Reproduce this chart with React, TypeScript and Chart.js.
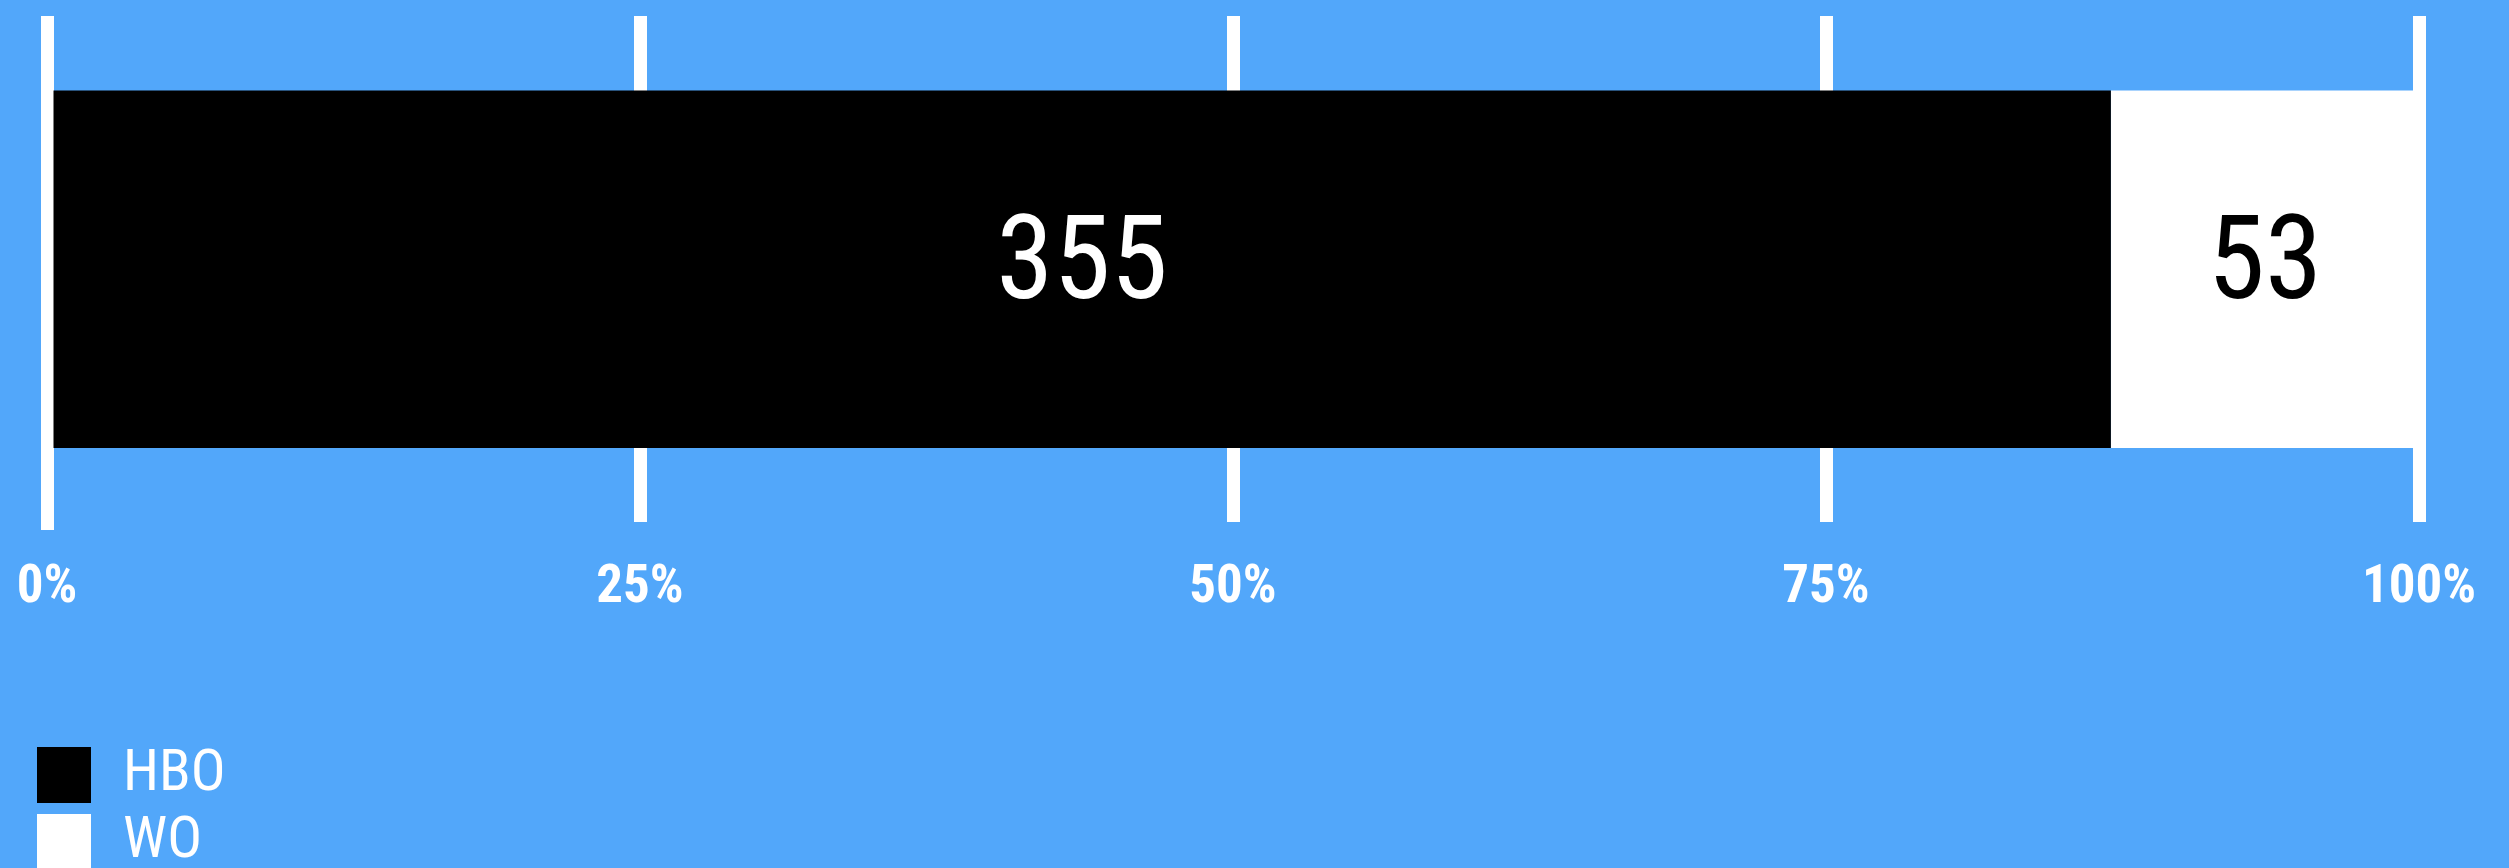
import React, { useEffect, useRef } from "react";
import { Chart, registerables } from "chart.js";

Chart.register(...registerables);

const categories = ["Total"];
const seriesNames = ["HBO", "WO"];
const hboCounts = [355];
const woCounts = [53];
const seriesColors = ["#000000", "#ffffff"];
const labelColors = ["#ffffff", "#000000"];
const tickValues = [0, 25, 50, 75, 100];

const BG = "#52a7fa";
const FONT = '"Roboto Condensed", "Liberation Sans Narrow", "DejaVu Sans Condensed", "Arial Narrow", Roboto, sans-serif';

const totals = categories.map((_, i) => hboCounts[i] + woCounts[i]);
const hboPct = hboCounts.map((v, i) => (v / totals[i]) * 100);
const woPct = woCounts.map((v, i) => (v / totals[i]) * 100);
const countsBySeries = [hboCounts, woCounts];

const valueLabelPlugin = {
  id: "valueLabels",
  afterDatasetsDraw(chart: any) {
    const ctx = chart.ctx;
    ctx.save();
    ctx.font = `400 116px ${FONT}`;
    ctx.textAlign = "center";
    ctx.textBaseline = "middle";
    chart.data.datasets.forEach((ds: any, di: number) => {
      const meta = chart.getDatasetMeta(di);
      meta.data.forEach((el: any, i: number) => {
        const cx = (el.x + el.base) / 2;
        ctx.fillStyle = labelColors[di];
        ctx.fillText(String(countsBySeries[di][i]), cx, el.y);
      });
    });
    ctx.restore();
  },
};

const verticalLegendPlugin = {
  id: "verticalLegend",
  afterDraw(chart: any) {
    const ctx = chart.ctx;
    ctx.save();
    const boxX = 37;
    const startY = 747;
    const boxW = 54;
    const boxH = 56;
    const gap = 67;
    ctx.font = `400 58px ${FONT}`;
    ctx.textAlign = "left";
    ctx.textBaseline = "middle";
    chart.data.datasets.forEach((ds: any, di: number) => {
      const y = startY + di * gap;
      ctx.fillStyle = ds.backgroundColor;
      ctx.fillRect(boxX, y, boxW, boxH);
      ctx.fillStyle = "#ffffff";
      ctx.fillText(ds.label, 123, y + boxH / 2);
    });
    ctx.restore();
  },
};

export default function App() {
  const ref = useRef<HTMLCanvasElement | null>(null);
  useEffect(() => {
    if (!ref.current) return;
    const chart = new Chart(ref.current, {
      type: "bar",
      data: {
        labels: categories,
        datasets: [
          { label: seriesNames[0], data: hboPct, backgroundColor: seriesColors[0], borderWidth: 0 },
          { label: seriesNames[1], data: woPct, backgroundColor: seriesColors[1], borderWidth: 0 },
        ],
      },
      options: {
        indexAxis: "y",
        responsive: false,
        animation: false,
        events: [],
        layout: { padding: { top: 16, left: 47, right: 90, bottom: 247 } },
        datasets: { bar: { categoryPercentage: 1, barPercentage: 0.706 } },
        plugins: { legend: { display: false }, tooltip: { enabled: false } },
        scales: {
          x: {
            stacked: true,
            min: 0,
            max: 100,
            afterBuildTicks: (scale: any) => {
              scale.ticks = tickValues.map((v) => ({ value: v }));
            },
            border: { display: false },
            grid: {
              color: "#ffffff",
              lineWidth: 13,
              drawTicks: true,
              tickLength: 35,
              tickBorderDash: [8, 400],
              tickColor: (c: any) => (c.index === 0 ? "#ffffff" : "rgba(0,0,0,0)"),
            },
            ticks: {
              padding: 0,
              color: "#ffffff",
              font: { family: FONT, size: 53, weight: "bold" },
              maxRotation: 0,
              callback: (v: any) => `${v}%`,
            },
          },
          y: {
            stacked: true,
            display: false,
          },
        },
      },
      plugins: [valueLabelPlugin, verticalLegendPlugin],
    } as any);
    return () => chart.destroy();
  }, []);
  return (
    <div style={{ position: "fixed", left: 0, top: 0, width: 2509, height: 868, background: BG, overflow: "hidden" }}>
      <canvas ref={ref} width={2509} height={868} style={{ display: "block" }} />
    </div>
  );
}
